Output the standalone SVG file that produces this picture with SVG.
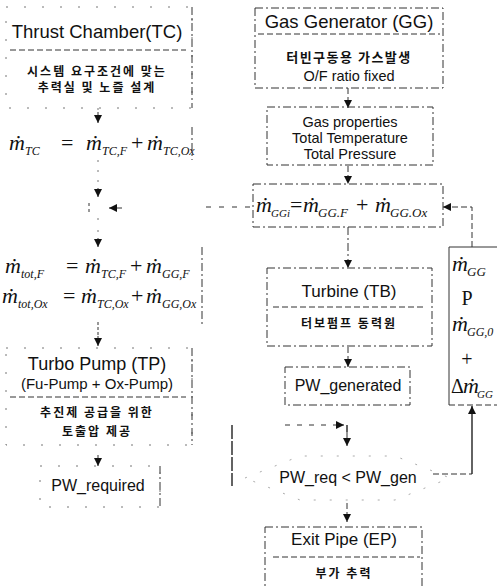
<svg xmlns="http://www.w3.org/2000/svg" width="497" height="586" viewBox="0 0 497 586">
<style>
.t{font-family:"Liberation Sans",Arial,sans-serif;fill:#111;text-anchor:middle}
.k{font-family:"Noto Sans CJK KR","Noto Sans",sans-serif;fill:#111;text-anchor:middle;font-weight:bold;font-size:12px;letter-spacing:2px}
.e{font-family:"Liberation Serif","Times New Roman",serif;fill:#111;font-style:italic;font-size:22px}
.q{font-family:"Liberation Serif","Times New Roman",serif;fill:#111;font-size:22px}
.s{font-family:"Liberation Serif","Times New Roman",serif;fill:#111;font-style:italic;font-size:12px}
.o{font-family:"Liberation Serif","Times New Roman",serif;fill:#111;font-size:20px;text-anchor:middle}
.d{fill:none;stroke:#333;stroke-width:1;stroke-dasharray:6 3}
.dd{fill:none;stroke:#333;stroke-width:1;stroke-dasharray:8 3 2 3}
.sp{fill:none;stroke:#777;stroke-width:1;stroke-dasharray:2 16}
.ln{fill:none;stroke:#333;stroke-width:1}
.sl{fill:none;stroke:#222;stroke-width:1.4}
</style>
<defs>
<marker id="ah" viewBox="0 0 10 10" refX="10" refY="5" markerWidth="8" markerHeight="8" markerUnits="userSpaceOnUse" orient="auto">
<path d="M0,0 L10,5 L0,10 z" fill="#111"/>
</marker>
</defs>

<g id="connectors">
<line class="sp" x1="98" y1="108" x2="98" y2="112"/>
<line class="ln" x1="98" y1="112" x2="98" y2="123" marker-end="url(#ah)"/>
<line class="sp" x1="98" y1="160" x2="98" y2="185" style="stroke-dasharray:2 8"/>
<line class="ln" x1="98" y1="188" x2="98" y2="197" marker-end="url(#ah)"/>
<line class="d" x1="250" y1="207" x2="200" y2="207" style="stroke-dasharray:5 8"/>
<line class="ln" x1="122" y1="208" x2="109" y2="208" marker-end="url(#ah)"/>
<line class="sp" x1="98" y1="218" x2="98" y2="236" style="stroke-dasharray:2 10"/>
<line class="ln" x1="98" y1="238" x2="98" y2="247" marker-end="url(#ah)"/>
<line class="d" x1="98" y1="322" x2="98" y2="336" style="stroke-dasharray:3 2"/>
<line class="ln" x1="98" y1="336" x2="98" y2="346" marker-end="url(#ah)"/>
<line class="ln" x1="98" y1="455" x2="98" y2="466" marker-end="url(#ah)"/>
<line class="sl" x1="232" y1="425" x2="232" y2="486" style="stroke-dasharray:14 2"/>
<line class="d" x1="348" y1="88" x2="348" y2="108" marker-end="url(#ah)"/>
<line class="d" x1="348" y1="166" x2="348" y2="184" marker-end="url(#ah)"/>
<line class="d" x1="348" y1="227" x2="348" y2="268" style="stroke-dasharray:8 3 2 3" marker-end="url(#ah)"/>
<line class="d" x1="348" y1="347" x2="348" y2="367" marker-end="url(#ah)"/>
<line class="d" x1="285" y1="425" x2="336" y2="425" style="stroke-dasharray:5 7"/>
<line class="ln" x1="336" y1="425" x2="344" y2="425" marker-end="url(#ah)"/>
<line class="sl" x1="347" y1="425" x2="347" y2="432"/>
<line class="d" x1="347" y1="432" x2="347" y2="446" marker-end="url(#ah)"/>
<line class="d" x1="347" y1="503" x2="347" y2="522" marker-end="url(#ah)"/>
<polyline class="d" points="433,474 472,474"/>
<line class="sl" x1="472" y1="474" x2="472" y2="406" marker-end="url(#ah)"/>
<polyline class="d" points="472,247 472,207 443,207" marker-end="url(#ah)"/>
</g>

<g id="thrust-chamber">
<rect class="sp" x="6" y="7" width="186" height="101"/>
<line class="dd" x1="192" y1="7" x2="192" y2="108"/>
<line class="d" x1="10" y1="50" x2="186" y2="50"/>
<text class="t" x="97" y="38" font-size="18.5">Thrust Chamber(TC)</text>
<text class="k" x="97" y="76">시스템 요구조건에 맞는</text>
<text class="k" x="97" y="92">추력실 및 노즐 설계</text>
</g>

<g id="eq-tc">
<line class="dd" x1="192" y1="127" x2="192" y2="160"/>
<text class="e" x="9" y="150">ṁ</text><text class="s" x="25" y="155">TC</text>
<text class="q" x="61" y="150">=</text>
<text class="e" x="86" y="150">ṁ</text><text class="s" x="102" y="155">TC,F</text>
<text class="q" x="131" y="150">+</text>
<text class="e" x="147" y="150">ṁ</text><text class="s" x="163" y="155">TC,Ox</text>
</g>

<g id="junction">
<line class="ln" x1="89" y1="203" x2="89" y2="213" style="stroke-dasharray:3 3"/>
</g>

<g id="eq-tot">
<line class="dd" x1="202" y1="247" x2="202" y2="324"/>
<text class="e" x="5" y="273">ṁ</text><text class="s" x="21" y="278">tot,F</text>
<text class="q" x="66" y="273">=</text>
<text class="e" x="85" y="273">ṁ</text><text class="s" x="101" y="278">TC,F</text>
<text class="q" x="130" y="273">+</text>
<text class="e" x="146" y="273">ṁ</text><text class="s" x="162" y="278">GG,F</text>
<text class="e" x="2" y="303">ṁ</text><text class="s" x="18" y="308">tot,Ox</text>
<text class="q" x="63" y="303">=</text>
<text class="e" x="81" y="303">ṁ</text><text class="s" x="97" y="308">TC,Ox</text>
<text class="q" x="131" y="303">+</text>
<text class="e" x="146" y="303">ṁ</text><text class="s" x="162" y="308">GG,Ox</text>
</g>

<g id="turbo-pump">
<rect class="sp" x="6" y="348" width="186" height="97"/>
<line class="dd" x1="192" y1="348" x2="192" y2="445"/>
<line class="d" x1="10" y1="397" x2="186" y2="397"/>
<text class="t" x="97" y="370" font-size="18">Turbo Pump (TP)</text>
<text class="t" x="97" y="389" font-size="15">(Fu-Pump + Ox-Pump)</text>
<text class="k" x="97" y="417">추진제 공급을 위한</text>
<text class="k" x="97" y="436">토출압 제공</text>
</g>

<g id="pw-required">
<line class="dd" x1="160" y1="466" x2="160" y2="507"/>
<rect class="sp" x="40" y="466" width="120" height="41"/>
<text class="t" x="98" y="491" font-size="16">PW_required</text>
</g>

<g id="gas-generator">
<rect class="dd" x="255" y="8" width="188" height="80"/>
<line class="d" x1="258" y1="34" x2="440" y2="34"/>
<text class="t" x="349" y="28" font-size="18.5">Gas Generator (GG)</text>
<text class="k" x="349" y="62" style="font-size:13px;letter-spacing:1.5px">터빈구동용 가스발생</text>
<text class="t" x="349" y="81" font-size="14.5">O/F ratio fixed</text>
</g>

<g id="gas-properties">
<rect class="dd" x="267" y="107" width="166" height="58"/>
<text class="t" x="350" y="127" font-size="14.5">Gas properties</text>
<text class="t" x="350" y="143" font-size="14.5">Total Temperature</text>
<text class="t" x="350" y="159" font-size="14.5">Total Pressure</text>
</g>

<g id="eq-gg">
<rect class="dd" x="253" y="184" width="190" height="43"/>
<text class="e" x="256" y="212">ṁ</text><text class="s" x="271" y="217" style="font-size:11px">GGi</text>
<text class="q" x="290" y="212">=</text>
<text class="e" x="303" y="212">ṁ</text><text class="s" x="318" y="217" style="font-size:13px">GG.F</text>
<text class="q" x="356" y="212">+</text>
<text class="e" x="375" y="212">ṁ</text><text class="s" x="390" y="217" style="font-size:13px">GG.Ox</text>
</g>

<g id="feedback">
<polyline class="ln" points="520,247 449,247 449,405"/>
<line class="d" x1="449" y1="405" x2="497" y2="405"/>
<text class="e" x="452" y="271">ṁ</text><text class="s" x="467" y="276" style="font-size:13px">GG</text>
<text class="o" x="467" y="305">P</text>
<text class="e" x="452" y="331">ṁ</text><text class="s" x="467" y="336">GG,0</text>
<text class="o" x="467" y="366">+</text>
<text class="q" x="451" y="393" style="font-size:20px">Δ</text><text class="e" x="463" y="393">ṁ</text><text class="s" x="477" y="398" style="font-size:11px">GG</text>
</g>

<g id="turbine">
<rect class="dd" x="267" y="268" width="165" height="78"/>
<line class="d" x1="273" y1="307" x2="426" y2="307"/>
<text class="t" x="349" y="297" font-size="17">Turbine (TB)</text>
<text class="k" x="349" y="328">터보펌프 동력원</text>
</g>

<g id="pw-generated">
<rect class="dd" x="285" y="367" width="125" height="38"/>
<text class="t" x="348" y="391" font-size="16">PW_generated</text>
</g>

<g id="decision">
<polygon class="sp" points="245,478 300,456 395,456 450,478 395,500 300,500" style="stroke:#aaa;stroke-dasharray:2 14"/>
<text class="t" x="348" y="483" font-size="16">PW_req &lt; PW_gen</text>
</g>

<g id="exit-pipe">
<rect class="dd" x="265" y="527" width="157" height="70"/>
<line class="d" x1="273" y1="557" x2="420" y2="557"/>
<text class="t" x="344" y="545" font-size="17">Exit Pipe (EP)</text>
<text class="k" x="344" y="578">부가 추력</text>
</g>
</svg>
